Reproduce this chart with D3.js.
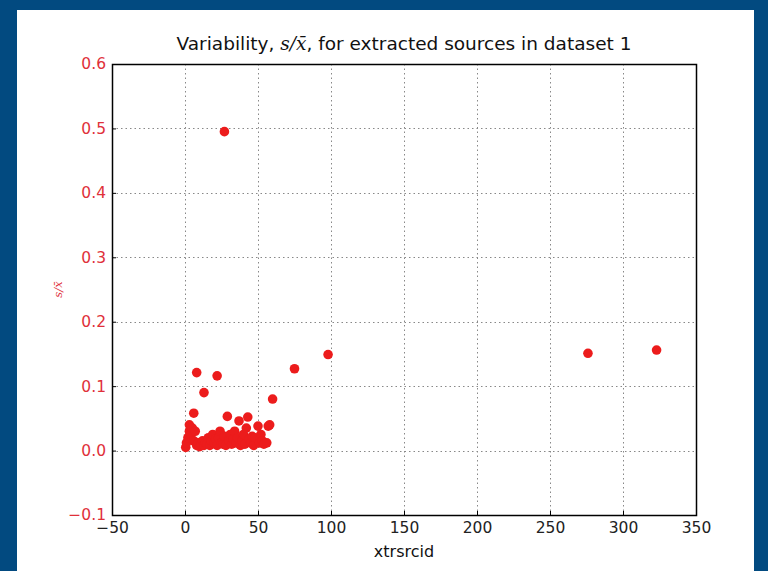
<!DOCTYPE html>
<html>
<head>
<meta charset="utf-8">
<script src="https://cdn.jsdelivr.net/npm/d3@7"></script>
<style>
  html, body { margin: 0; padding: 0; background: #024a80; }
  #chart { width: 768px; height: 571px; }
  svg { display: block; font-family: "DejaVu Sans", sans-serif; }
</style>
</head>
<body>
<div id="chart"></div>
<script>
// source id (xtrsrcid) and variability s/x̄
const srcIds = [27, 8, 22, 13, 75, 98, 276, 323, 60,
  0.5, 1, 2, 3, 3, 4, 5, 6, 6, 7, 8, 9, 10, 11, 12, 13, 14, 15, 16, 17, 18, 19, 20,
  21, 22, 23, 24, 25, 26, 27, 28, 29, 30, 31, 32, 33, 34, 35, 36, 37, 38, 39, 40,
  41, 42, 43, 44, 45, 46, 47, 48, 50, 51, 52, 53, 54, 56, 57, 58];
const variability = [0.495, 0.121, 0.116, 0.090, 0.127, 0.149, 0.151, 0.156, 0.080,
  0.005, 0.012, 0.020, 0.030, 0.040, 0.025, 0.035, 0.058, 0.015, 0.030, 0.008, 0.012, 0.006,
  0.010, 0.015, 0.008, 0.012, 0.010, 0.020, 0.008, 0.015, 0.025, 0.012,
  0.018, 0.008, 0.020, 0.030, 0.012, 0.010, 0.022, 0.008, 0.053, 0.015, 0.025, 0.010,
  0.018, 0.030, 0.012, 0.020, 0.046, 0.008, 0.015, 0.025,
  0.010, 0.035, 0.052, 0.018, 0.012, 0.022, 0.008, 0.020, 0.038, 0.012, 0.025, 0.015,
  0.010, 0.012, 0.038, 0.040];
const xTicks = [-50, 0, 50, 100, 150, 200, 250, 300, 350];
const yTicks = [-0.1, 0.0, 0.1, 0.2, 0.3, 0.4, 0.5, 0.6];

const W = 768, H = 571;
const pLeft = 112, pRight = 696, pTop = 64, pBottom = 515;

const svg = d3.select('#chart').append('svg')
  .attr('width', W).attr('height', H);

// white page inside the blue frame
svg.append('rect').attr('x', 17).attr('y', 10).attr('width', 737).attr('height', H - 10)
  .attr('fill', '#ffffff');

const x = d3.scaleLinear().domain([-50, 350]).range([pLeft, pRight]);
const y = d3.scaleLinear().domain([-0.1, 0.6]).range([pBottom, pTop]);

// grid
const grid = svg.append('g').attr('stroke', '#888').attr('stroke-width', 1)
  .attr('stroke-dasharray', '1.5,3');
grid.selectAll('.gx').data(xTicks.slice(1, -1)).join('line')
  .attr('x1', d => Math.round(x(d)) + 0.5).attr('x2', d => Math.round(x(d)) + 0.5)
  .attr('y1', pTop).attr('y2', pBottom);
grid.selectAll('.gy').data(yTicks.slice(1, -1)).join('line')
  .attr('y1', d => Math.round(y(d)) + 0.5).attr('y2', d => Math.round(y(d)) + 0.5)
  .attr('x1', pLeft).attr('x2', pRight);

// points
const pts = srcIds.map((id, i) => ({ id, v: variability[i] }));
svg.append('g').selectAll('circle').data(pts).join('circle')
  .attr('cx', d => x(d.id)).attr('cy', d => y(d.v)).attr('r', 4.8)
  .attr('fill', '#ec1c1c');

// axes with inward ticks
const xAxis = d3.axisBottom(x).tickValues(xTicks).tickSizeInner(-4).tickSizeOuter(0)
  .tickPadding(7).tickFormat(d => d < 0 ? '\u2212' + Math.abs(d) : d);
const yAxis = d3.axisLeft(y).tickValues(yTicks).tickSizeInner(-4).tickSizeOuter(0)
  .tickPadding(6).tickFormat(d => (d < 0 ? '\u2212' : '') + Math.abs(d).toFixed(1));

const gx = svg.append('g').attr('transform', `translate(0,${pBottom})`).call(xAxis);
gx.select('.domain').remove();
gx.selectAll('text').attr('font-size', 15.5).attr('fill', '#222').attr('font-family', 'DejaVu Sans');
gx.selectAll('line').attr('stroke', '#000');

const gy = svg.append('g').attr('transform', `translate(${pLeft},0)`).call(yAxis);
gy.select('.domain').remove();
gy.selectAll('text').attr('font-size', 15.5).attr('fill', '#e0303a').attr('font-family', 'DejaVu Sans');
gy.selectAll('line').attr('stroke', '#000');

// frame
svg.append('rect').attr('x', pLeft + 0.5).attr('y', pTop + 0.5)
  .attr('width', pRight - pLeft).attr('height', pBottom - pTop)
  .attr('fill', 'none').attr('stroke', '#000').attr('stroke-width', 1.5);

// title
const title = svg.append('text').attr('x', (pLeft + pRight) / 2).attr('y', 50)
  .attr('text-anchor', 'middle').attr('font-size', 18.5).attr('fill', '#111');
title.append('tspan').text('Variability, ');
title.append('tspan').attr('font-style', 'italic').attr('font-family', 'DejaVu Serif').text('s/x\u0304');
title.append('tspan').text(', for extracted sources in dataset 1');

// x label
svg.append('text').attr('x', (pLeft + pRight) / 2).attr('y', 557)
  .attr('text-anchor', 'middle').attr('font-size', 16).attr('fill', '#111').text('xtrsrcid');

// y label
svg.append('text').attr('transform', `translate(62,${(pTop + pBottom) / 2}) rotate(-90)`)
  .attr('text-anchor', 'middle').attr('font-size', 11.5).attr('fill', '#e0303a')
  .attr('font-style', 'italic').attr('font-family', 'DejaVu Serif').text('s/x\u0304');
</script>
</body>
</html>
